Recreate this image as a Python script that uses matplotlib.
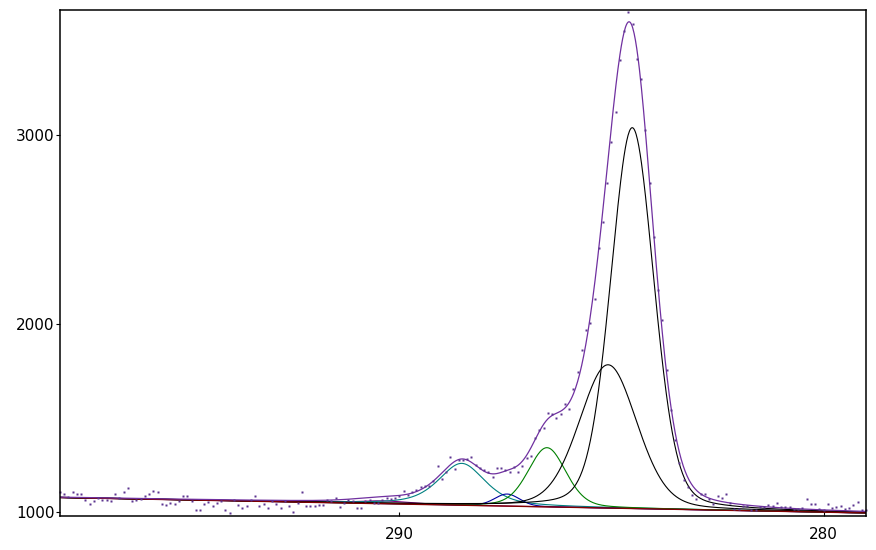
import numpy as np
import matplotlib
matplotlib.use("Agg")
import matplotlib.pyplot as plt

# measured counts, 298.0 -> 279.0 eV in 0.1 eV steps
counts = [
    1105, 1098, 1080, 1105, 1094, 1098, 1063, 1041, 1056, 1077,
    1063, 1066, 1056, 1098, 1077, 1105, 1126, 1056, 1066, 1070,
    1084, 1098, 1112, 1105, 1045, 1038, 1049, 1041, 1060, 1087,
    1087, 1058, 1013, 1013, 1045, 1052, 1031, 1049, 1056, 1013,
    996, 1066, 1038, 1020, 1031, 1066, 1087, 1031, 1041, 1020,
    1059, 1045, 1020, 1056, 1031, 999, 1049, 1105, 1034, 1034,
    1031, 1040, 1040, 1063, 1056, 1073, 1028, 1049, 1066, 1056,
    1020, 1020, 1056, 1063, 1049, 1049, 1063, 1077, 1070, 1073,
    1085, 1109, 1091, 1105, 1119, 1134, 1137, 1137, 1165, 1246,
    1176, 1211, 1292, 1229, 1278, 1278, 1282, 1292, 1250, 1232,
    1225, 1215, 1186, 1232, 1232, 1225, 1211, 1239, 1211, 1243,
    1285, 1296, 1391, 1437, 1444, 1526, 1518, 1497, 1522, 1575,
    1547, 1653, 1741, 1858, 1967, 2003, 2131, 2400, 2536, 2745,
    2962, 3124, 3398, 3553, 3655, 3589, 3405, 3296, 3027, 2748,
    2459, 2178, 2020, 1755, 1543, 1384, 1262, 1168, 1131, 1090,
    1070, 1096, 1097, 1068, 1044, 1087, 1072, 1094, 1050, 1016,
    1015, 1034, 1032, 1012, 1012, 1028, 1025, 1036, 1033, 1049,
    1025, 1025, 1025, 1018, 1016, 1020, 1068, 1041, 1041, 1016,
    1011, 1041, 1020, 1025, 1031, 1014, 1020, 1036, 1051, 1009,
    1012,
]
be_start, be_end = 298.0, 279.0

# fitted components (binding energy, height above background, fwhm, lorentz fraction)
centers = [290.4, 288.53, 287.46, 286.52, 285.08, 284.51]
heights = [15, 222, 64, 314, 760, 2020]
fwhms = [1.5, 1.3, 0.7, 1.05, 1.6, 1.2]
lor_frac = [0.2, 0.55, 0.2, 0.25, 0.2, 0.2]
comp_colors = ['#800080', '#008080', '#0000a0', '#008000', 'black', 'black']

# linear background end points (at 298 eV and 279 eV)
bg_ends = [1077, 995]


def pseudo_voigt(x, c, h, w, m):
    g = np.exp(-4 * np.log(2) * ((x - c) / w) ** 2)
    l = 1.0 / (1 + 4 * ((x - c) / w) ** 2)
    return h * ((1 - m) * g + m * l)


be = np.linspace(be_start, be_end, len(counts))
xf = np.linspace(be_start, be_end, 1200)
bg = bg_ends[0] + (bg_ends[1] - bg_ends[0]) * (be_start - xf) / (be_start - be_end)

fig = plt.figure(figsize=(8.76, 5.5), dpi=100)
ax = fig.add_axes([60 / 876, 1 - 516 / 550, 806 / 876, 506 / 550])

envelope = bg.copy()
for c, h, w, m, col in zip(centers, heights, fwhms, lor_frac, comp_colors):
    p = pseudo_voigt(xf, c, h, w, m)
    envelope += p
    ax.plot(xf, bg + p, color=col, lw=0.8)

ax.plot(xf, bg, color='#800000', lw=1.0)
ax.plot(xf, envelope, color='#7030a0', lw=0.9)
ax.plot(be, counts, 's', color='#5c3590', ms=1.5, mec='none', clip_on=False)

ax.set_xlim(be_start, be_end)
ax.set_ylim(979, 3663)
ax.set_xticks([290, 280])
ax.set_yticks([1000, 2000, 3000])
ax.tick_params(axis='x', direction='in', length=3, pad=8, labelsize=11)
ax.tick_params(axis='y', direction='out', length=3, pad=1, labelsize=11)
for s in ax.spines.values():
    s.set_linewidth(1.1)

fig.savefig('out.png', dpi=100)
